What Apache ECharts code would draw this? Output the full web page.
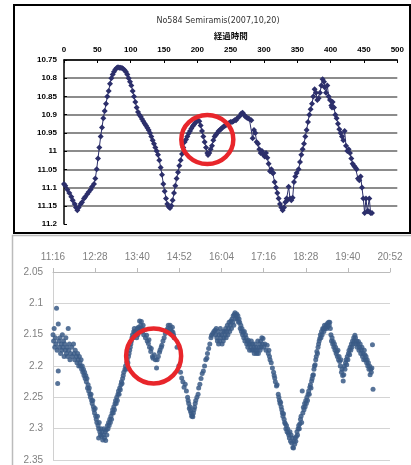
<!DOCTYPE html>
<html><head><meta charset="utf-8">
<script src="https://cdn.jsdelivr.net/npm/echarts@6/dist/echarts.min.js"></script>
<style>html,body{margin:0;padding:0;background:#fff}#c{width:411px;height:465px}</style>
</head><body><div id="c"></div>
<script>
const titleText = 'No584 Semiramis(2007,10,20)';
const topAxisName = '経過時間';
const topXTicks = [0, 500, 50];
const topYTicks = [10.75, 11.2, 0.05];
// [elapsed, magnitude]
const topPoints = [
[0,11.09],[2,11.095],[5,11.105],[8,11.115],[11,11.125],[13,11.135],[16,11.145],[18,11.155],[20,11.162],[22,11.155],
[25,11.145],[27,11.14],[30,11.13],[32,11.125],[35,11.118],[37,11.112],[40,11.105],[42,11.098],[45,11.09],[47,11.075],
[49,11.05],[51,11.02],[53,10.99],[55,10.96],[57,10.935],[59,10.91],[61,10.89],[63,10.87],[65,10.85],[67,10.835],
[69,10.815],[71,10.8],[73,10.79],[75,10.782],[77,10.776],[79,10.772],[81,10.77],[83,10.771],[85,10.771],[87,10.772],
[89,10.775],[91,10.778],[93,10.783],[95,10.79],[97,10.8],[99,10.81],[101,10.82],[103,10.835],[105,10.85],[107,10.865],
[109,10.88],[111,10.893],[113,10.9],[115,10.905],[117,10.912],[119,10.918],[121,10.924],[123,10.93],[125,10.936],[127,10.942],
[129,10.95],[131,10.96],[133,10.97],[135,10.98],[137,10.99],[139,11.0],[141,11.01],[143,11.025],[145,11.045],[147,11.065],
[149,11.09],[151,11.11],[153,11.13],[155,11.145],[157,11.153],[159,11.156],[161,11.15],[163,11.135],[165,11.115],[167,11.095],
[169,11.075],[171,11.058],[173,11.04],[175,11.025],[177,11.008],[179,10.99],[181,10.975],[183,10.968],[185,10.96],[187,10.952],
[189,10.945],[191,10.938],[193,10.932],[195,10.927],[197,10.922],[199,10.918],[201,10.916],[203,10.918],[205,10.93],[207,10.945],
[209,10.96],[211,10.975],[213,10.99],[215,11.005],[216,11.011],[218,11.005],[220,10.995],[222,10.985],[224,10.97],[226,10.96],
[228,10.955],[230,10.95],[232,10.945],[234,10.942],[236,10.938],[238,10.935],[240,10.932],[242,10.93],[244,10.928],[246,10.925],
[248,10.922],[250,10.92],[252,10.92],[254,10.918],[256,10.915],[258,10.915],[260,10.91],[263,10.905],[266,10.897],[268,10.895],
[270,10.9],[272,10.905],[274,10.908],[276,10.91],[278,10.912],[281,10.915],[283,10.965],[285,10.942],[287,10.95],[289,10.975],
[291,10.98],[293,10.995],[295,11.005],[297,11.0],[299,11.01],[301,11.015],[303,11.005],[305,11.018],[307,11.035],[309,11.055],
[311,11.05],[313,11.06],[314,11.06],[316,11.085],[318,11.1],[320,11.115],[322,11.13],[324,11.145],[326,11.155],[328,11.162],
[330,11.155],[332,11.14],[334,11.13],[335,11.135],[337,11.098],[339,11.13],[341,11.135],[343,11.128],[345,11.085],[347,11.07],
[349,11.06],[352,11.05],[354,11.03],[356,11.01],[358,10.995],[360,10.98],[362,10.96],[364,10.942],[366,10.92],[368,10.9],
[370,10.885],[372,10.87],[374,10.85],[376,10.83],[378,10.84],[380,10.86],[382,10.855],[384,10.84],[386,10.82],[388,10.803],
[390,10.81],[391,10.825],[393,10.84],[395,10.82],[397,10.85],[399,10.86],[401,10.875],[402,10.88],[403,10.865],[405,10.88],
[407,10.9],[409,10.91],[411,10.925],[413,10.94],[415,10.95],[417,10.96],[419,10.97],[421,10.945],[423,10.985],[425,11.0],
[427,10.995],[429,11.005],[431,11.02],[433,11.035],[435,11.04],[437,11.045],[439,11.05],[441,11.075],[443,11.08],[445,11.07],
[447,11.1],[449,11.13],[451,11.17],[453,11.13],[455,11.165],[457,11.165],[458,11.13],[460,11.17],[462,11.17]
];
const bottomTickLabels = ['11:16','12:28','13:40','14:52','16:04','17:16','18:28','19:40','20:52'];
const bottomTickStep = 72; // minutes between labels
const bottomYTicks = [2.05, 2.35, 0.05];
// [minutes after 11:16, magnitude]
const bottomPoints = [
[0,2.15],[1,2.16],[2,2.14],[3,2.17],[4,2.155],[5,2.165],[6,2.108],[7,2.175],[8,2.228],[9,2.133],[9,2.208],[10,2.16],[11,2.17],[12,2.155],[13,2.18],[14,2.165],[15,2.175],[16,2.15],[17,2.17],[18,2.16],[19,2.185],[20,2.165],[21,2.175],[22,2.155],[23,2.18],[24,2.17],[25,2.185],[26,2.14],[27,2.175],[28,2.165],[29,2.19],[30,2.18],
[32,2.17],[33,2.185],[35,2.165],[36,2.18],[37,2.19],[38,2.175],[40,2.185],[41,2.195],[42,2.18],[43,2.19],[44,2.2],[45,2.185],[46,2.195],[47,2.2],[48,2.19],[49,2.205],[50,2.2],[51,2.21],[52,2.205],[53,2.215],[54,2.21],[55,2.22],[56,2.215],[57,2.225],[58,2.22],[59,2.235],[60,2.23],[61,2.24],[62,2.235],[63,2.245],[64,2.25],[65,2.245],[66,2.255],[67,2.26],[68,2.255],[69,2.265],[70,2.27],[71,2.275],[72,2.268],[73,2.28],[74,2.285],[75,2.29],[76,2.28],[77,2.295],[78,2.3],[78,2.315],[79,2.29],[80,2.305],[81,2.31],[82,2.3],[83,2.312],[84,2.305],[85,2.318],[86,2.31],[87,2.3],[88,2.315],[89,2.305],[90,2.319],[91,2.302],[92,2.31],[93,2.295],[94,2.3],[95,2.29],[96,2.295],[97,2.285],[98,2.29],[99,2.28],[100,2.285],[101,2.275],[102,2.27],[103,2.275],[104,2.265],[105,2.27],[106,2.26],[107,2.255],[108,2.26],[109,2.25],[110,2.255],[111,2.245],[112,2.24],[113,2.245],[114,2.235],[115,2.238],[116,2.23],[117,2.225],[118,2.228],[119,2.22],[120,2.215],[121,2.21],[123,2.205],[124,2.2],[125,2.205],[126,2.195],[127,2.19],[128,2.195],[129,2.185],[130,2.18],[131,2.175],[132,2.17],[133,2.165],[134,2.16],[135,2.155],[136,2.15],[137,2.155],[138,2.145],[139,2.14],
[140,2.146],[141,2.15],[142,2.145],[143,2.155],[144,2.14],[145,2.15],[146,2.138],[147,2.145],[148,2.128],[149,2.14],[150,2.135],[151,2.129],[152,2.14],[153,2.145],[154,2.135],[155,2.15],[156,2.142],[158,2.155],[160,2.151],[161,2.16],[163,2.164],[164,2.158],[165,2.17],[167,2.177],[168,2.172],[170,2.185],[171,2.1875],[173,2.182],[175,2.19],[177,2.203],[178,2.19],[180,2.185],[182,2.178],[183,2.1745],[185,2.17],[186,2.167],[188,2.16],[190,2.155],[192,2.148],[194,2.143],[196,2.14],[197,2.135],[198,2.145],[200,2.135],[201,2.14],[203,2.145],[204,2.138],[205,2.146],[206,2.15],[207,2.155],
[212,2.17],[215,2.2],[218,2.21],[220,2.219],[222,2.225],[224,2.234],[226,2.229],[228,2.24],[230,2.25],[231,2.255],[232,2.26],[233,2.268],[234,2.265],[235,2.272],[236,2.275],[237,2.28],[238,2.279],[239,2.281],[240,2.275],[241,2.27],[242,2.266],[243,2.26],[244,2.255],[246,2.25],[248,2.245],[249,2.235],[251,2.229],[253,2.22],[255,2.212],[257,2.208],[259,2.2],[261,2.19],[263,2.1875],[264,2.18],[266,2.172],[268,2.165],[270,2.155],[271,2.151],[273,2.148],[275,2.145],[277,2.143],[278,2.15],
[279,2.14],[280,2.155],[281,2.16],[282,2.145],[283,2.165],[284,2.15],[285,2.16],[286,2.14],[287,2.155],[288,2.15],[289,2.165],[290,2.145],[291,2.16],[292,2.155],[293,2.145],[294,2.15],[295,2.14],[296,2.155],[297,2.145],[298,2.135],[299,2.15],[300,2.14],[301,2.13],[302,2.145],[303,2.135],[304,2.128],[305,2.14],[306,2.125],[307,2.13],[308,2.12],[309,2.135],[310,2.118],[311,2.115],[312,2.125],[313,2.12],[314,2.117],[315,2.125],[316,2.12],[317,2.13],[318,2.125],[319,2.13],[320,2.14],[321,2.135],[322,2.145],[323,2.14],[324,2.15],[325,2.146],[326,2.155],[327,2.145],[328,2.16],[329,2.15],[330,2.155],[331,2.165],[332,2.16],[333,2.17],[334,2.159],[335,2.165],[336,2.175],[337,2.165],[338,2.17],[339,2.16],[340,2.175],[341,2.165],[342,2.1745],[343,2.17],[344,2.18],[345,2.165],[346,2.175],[347,2.17],[348,2.18],[349,2.175],[350,2.16],[351,2.18],[352,2.17],[353,2.165],[354,2.175],[355,2.16],[356,2.17],[357,2.155],[358,2.165],[359,2.156],[360,2.17],[362,2.165],[364,2.175],[366,2.167],[368,2.18],[369,2.175],[370,2.185],[371,2.19],[373,2.195],[375,2.203],[377,2.21],
[378,2.215],[379,2.219],[380,2.225],[382,2.232],[383,2.23],[385,2.245],[386,2.25],[387,2.255],[388,2.26],[389,2.258],[390,2.265],[391,2.27],[392,2.275],[393,2.28],[394,2.276],[395,2.285],[396,2.29],[397,2.292],[398,2.3],[399,2.295],[400,2.305],[401,2.3],[402,2.307],[403,2.31],[404,2.315],[405,2.305],[406,2.32],[407,2.31],[408,2.323],[409,2.315],[410,2.33],[411,2.331],[412,2.32],[413,2.325],[414,2.315],[415,2.32],[416,2.3125],[417,2.305],[418,2.31],[419,2.3],[420,2.295],[421,2.3],[422,2.292],[423,2.285],[424,2.28],[425,2.29],[426,2.24],[427,2.275],[428,2.266],[429,2.27],[430,2.26],[431,2.265],[432,2.255],[433,2.26],[434,2.25],[435,2.255],[436,2.245],[437,2.24],[438,2.245],[439,2.234],[440,2.23],[441,2.235],[442,2.224],[443,2.22],[444,2.215],[445,2.214],[446,2.205],[447,2.2],[448,2.198],[449,2.19],[450,2.185],[451,2.177],[452,2.18],[453,2.17],[454,2.165],[455,2.16],[456,2.156],[457,2.15],[458,2.155],[459,2.145],[460,2.15],[461,2.14],[462,2.141],[463,2.145],[464,2.135],[465,2.14],[466,2.138],[467,2.135],[468,2.14],[469,2.132],[470,2.137],[471,2.13],[472,2.135],[473,2.13],[474,2.14],
[475,2.15],[476,2.16],[477,2.155],[478,2.165],[479,2.161],[480,2.17],[481,2.165],[482,2.175],[483,2.17],[484,2.18],[485,2.177],[486,2.185],[487,2.175],[488,2.19],[489,2.185],[490,2.193],[491,2.2],[492,2.19],[493,2.21],[494,2.205],[495,2.215],[496,2.224],[497,2.214],[498,2.2],[499,2.205],[500,2.195],[501,2.19],[502,2.198],[503,2.185],[504,2.19],[505,2.18],[506,2.175],[507,2.182],[508,2.17],[509,2.175],[510,2.165],[511,2.17],[512,2.16],[513,2.165],[514,2.155],[515,2.16],[516,2.151],[517,2.155],[518,2.165],[519,2.16],[520,2.17],[521,2.165],[522,2.161],[523,2.175],[524,2.17],[525,2.165],[526,2.18],[527,2.1745],[528,2.17],[529,2.185],[530,2.18],[531,2.19],[532,2.175],[533,2.182],[534,2.19],[535,2.185],[536,2.195],[537,2.19],[538,2.2],[539,2.195],[540,2.205],[541,2.2],[542,2.214],[543,2.205],[544,2.21],[545,2.203],[546,2.166],[547,2.237]
];
// highlighted regions (data coordinates)
const topHighlight = [215, 10.968];
const bottomHighlight = [172, 2.184];

const fmt = v => String(Number(v.toFixed(2)));
const chart = echarts.init(document.getElementById('c'), null, {renderer: 'canvas'});
const topColor = '#2c2f6b';
const option = {
  animation: false,
  backgroundColor: '#fff',
  title: {
    text: titleText, left: 213, top: 12, textAlign: 'center',
    textStyle: {fontFamily: 'DejaVu Sans', fontSize: 8, fontWeight: 'normal', color: '#333'}
  },
  grid: [
    {left: 64, top: 60, width: 333.3, height: 164},
    {left: 53, top: 272, width: 337, height: 192}
  ],
  xAxis: [
    {gridIndex: 0, type: 'value', position: 'top', min: topXTicks[0], max: topXTicks[1], interval: topXTicks[2],
     name: topAxisName, nameLocation: 'middle', nameGap: 20,
     nameTextStyle: {fontFamily: 'Noto Sans CJK JP', fontSize: 8.5, fontWeight: 'bold', color: '#111'},
     axisLine: {lineStyle: {color: '#000', width: 1.5}},
     axisTick: {inside: true, length: 3, lineStyle: {color: '#000'}},
     axisLabel: {fontFamily: 'Liberation Sans', fontWeight: 'bold', fontSize: 8, color: '#000', margin: 6},
     splitLine: {show: false}},
    {gridIndex: 1, type: 'value', position: 'top', min: 0, max: bottomTickStep * (bottomTickLabels.length - 1), interval: bottomTickStep,
     axisLine: {lineStyle: {color: '#bbb', width: 1}},
     axisTick: {length: 4, lineStyle: {color: '#bbb'}},
     axisLabel: {fontFamily: 'Liberation Sans', fontSize: 10, color: '#808080', margin: 10,
                 formatter: v => bottomTickLabels[Math.round(v / bottomTickStep)]},
     splitLine: {show: false}}
  ],
  yAxis: [
    {gridIndex: 0, type: 'value', inverse: true, min: topYTicks[0], max: topYTicks[1], interval: topYTicks[2],
     axisLine: {show: true, lineStyle: {color: '#000', width: 1.5}},
     axisTick: {show: true, inside: true, length: 3, lineStyle: {color: '#000'}},
     axisLabel: {fontFamily: 'Liberation Sans', fontWeight: 'bold', fontSize: 8, color: '#000', margin: 7, formatter: fmt},
     splitLine: {show: true, showMaxLine: false, lineStyle: {color: '#666', width: 1.5}}},
    {gridIndex: 1, type: 'value', inverse: true, min: bottomYTicks[0], max: bottomYTicks[1], interval: bottomYTicks[2],
     axisLine: {show: true, lineStyle: {color: '#d0d0d0', width: 1}},
     axisTick: {show: false},
     axisLabel: {fontFamily: 'Liberation Sans', fontSize: 10, color: '#808080', margin: 10, formatter: fmt},
     splitLine: {show: true, lineStyle: {color: '#d4d4d4', width: 1}}}
  ],
  series: [
    {type: 'line', xAxisIndex: 0, yAxisIndex: 0, data: topPoints, symbol: 'diamond', symbolSize: 6, showAllSymbol: true,
     lineStyle: {color: topColor, width: 1}, itemStyle: {color: topColor}},
    {type: 'scatter', xAxisIndex: 1, yAxisIndex: 1, data: bottomPoints, symbolSize: 5,
     itemStyle: {color: '#3a5b86', opacity: 0.85}}
  ]
};
chart.setOption(option);
const p1 = chart.convertToPixel({gridIndex: 0}, topHighlight);
const p2 = chart.convertToPixel({gridIndex: 1}, bottomHighlight);
chart.setOption({
  graphic: [
    {type: 'rect', shape: {x: 14, y: 5, width: 396, height: 228}, style: {fill: 'none', stroke: '#000', lineWidth: 2}, z: 100},
    {type: 'rect', shape: {x: 12.5, y: 235.5, width: 430, height: 260}, style: {fill: 'none', stroke: '#bbb', lineWidth: 1.5}, z: 100},
    {type: 'ellipse', shape: {cx: p1[0], cy: p1[1], rx: 26, ry: 24.5}, style: {fill: 'none', stroke: '#e8262b', lineWidth: 4.5}, z: 100},
    {type: 'ellipse', shape: {cx: p2[0], cy: p2[1], rx: 27.5, ry: 27.5}, style: {fill: 'none', stroke: '#e8262b', lineWidth: 4.5}, z: 100}
  ]
});
</script></body></html>
